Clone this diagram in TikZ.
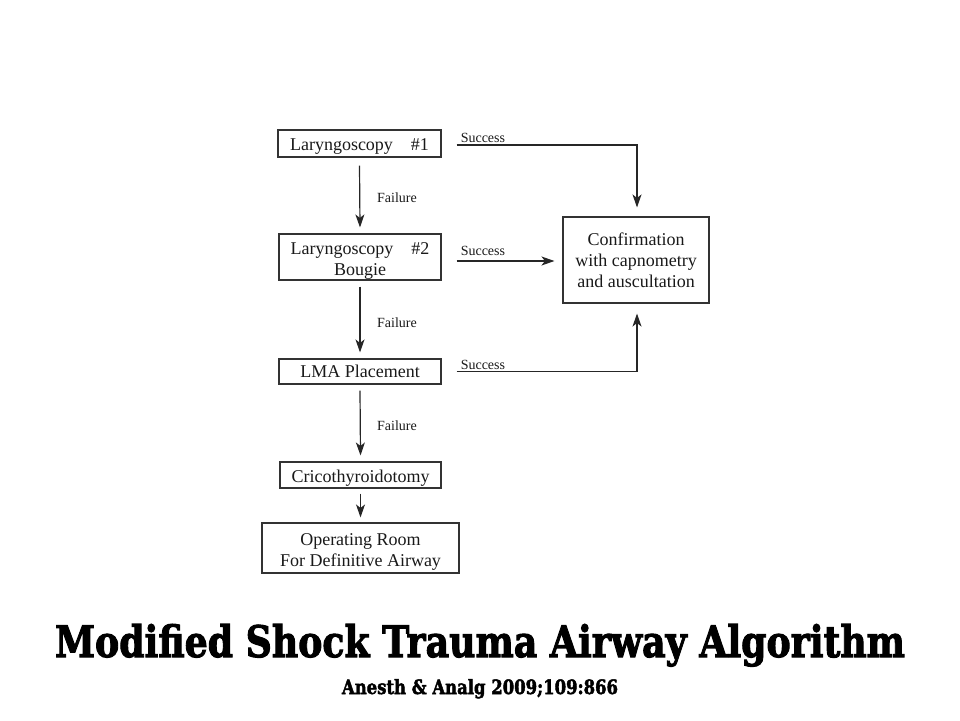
\documentclass[tikz,border=0pt]{standalone}
\usepackage{fontspec}
\setmainfont{Liberation Serif}
\newfontfamily\titlefont[FakeBold=2.5]{DejaVu Serif}
\usetikzlibrary{arrows.meta,calc}
\newcommand\boxtext[2][-3.5pt]{\raisebox{#1}[\height][\depth]{\begin{tabular}{@{}c@{}}#2\end{tabular}}}
\begin{document}
\begin{tikzpicture}[x=1pt,y=-1pt,
  box/.style={draw=black!80,line width=1.1pt,inner sep=0pt,align=center,font=\fontsize{18}{21}\selectfont,text=black!90},
  arr/.style={draw=black!85,line width=1.2pt,-{Stealth[length=13pt,width=9pt,inset=3.5pt]}},
  lbl/.style={font=\fontsize{14}{15}\selectfont,inner sep=1pt,text=black!90}]
\useasboundingbox (0,0) rectangle (960,720);
\node[box,minimum width=163pt,minimum height=27pt] (L1) at (359.5,143.5) {\boxtext[-2.5pt]{Laryngoscopy\quad \#1}};
\node[box,minimum width=162pt,minimum height=46pt] (L2) at (360,257) {\boxtext{Laryngoscopy\quad \#2\\Bougie}};
\node[box,minimum width=162pt,minimum height=25pt] (LMA) at (360,371.5) {\boxtext[-2pt]{LMA Placement}};
\node[box,minimum width=161pt,minimum height=26pt] (CR) at (360.5,475) {\boxtext{Cricothyroidotomy}};
\node[box,minimum width=197pt,minimum height=50pt] (OR) at (360.5,548) {\boxtext{Operating Room\\For Definitive Airway}};
\node[box,minimum width=146pt,minimum height=86pt] (CF) at (636,260) {Confirmation\\with capnometry\\and auscultation};
% failure arrows
\draw[arr] ($(L1.south)+(0,8)$) -- ($(L2.north)+(0,-6)$);
\draw[arr] ($(L2.south)+(0,6)$) -- ($(LMA.north)+(0,-6)$);
\draw[arr] ($(LMA.south)+(0,6)$) -- ($(CR.north)+(0,-6)$);
\draw[arr] ($(CR.south)+(0,5)$) -- ($(OR.north)+(0,-5)$);
\node[lbl,anchor=west] (f1) at (376,198) {Failure};
\node[lbl,anchor=west] (f2) at (376,323) {Failure};
\node[lbl,anchor=west] (f3) at (376,426) {Failure};
% success arrows
\coordinate (s1) at ($(L1.east)+(15,1.5)$);
\coordinate (s2) at ($(L2.east)+(15,4)$);
\coordinate (s3) at ($(LMA.east)+(15,0)$);
\draw[arr] (s1) -| ($(CF.north)+(1,-9)$);
\draw[arr] (s2) -- ($(CF.west|-s2)+(-8,0)$);
\draw[arr] (s3) -| ($(CF.south)+(1,10)$);
\node[lbl,anchor=south west] (su1) at ($(s1)+(3,-1)$) {Success};
\node[lbl,anchor=south west] (su2) at ($(s2)+(3,-4)$) {Success};
\node[lbl,anchor=south west] (su3) at ($(s3)+(3,-1)$) {Success};
% title
\node[inner sep=0pt,anchor=base] (title) at (480,657) {\resizebox{850pt}{33pt}{\titlefont\bfseries Modified Shock Trauma Airway Algorithm}};
\node[inner sep=0pt,anchor=base] (cite) at (480,694) {\resizebox{276pt}{15pt}{\titlefont\bfseries Anesth \& Analg 2009;109:866}};
\end{tikzpicture}
\end{document}
